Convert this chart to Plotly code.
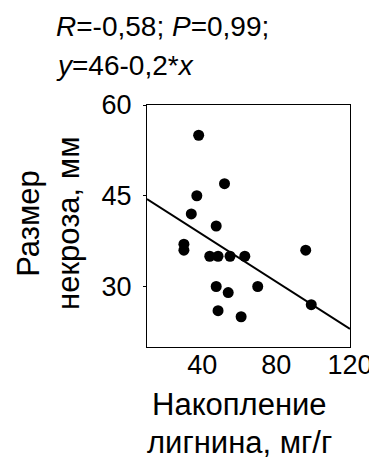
import plotly.graph_objects as go

lignin = [38, 52, 37, 34, 47.5, 30, 30, 44, 48.5, 55, 63, 96, 47.5, 70, 54, 48.5, 61, 99]
necrosis = [55, 47, 45, 42, 40, 37, 36, 35, 35, 35, 35, 36, 30, 30, 29, 26, 25, 27]
fit_intercept = 46.4
fit_slope = -0.195
x_range = [10, 120]
y_range = [20, 60]
x_ticks = [40, 80, 120]
y_ticks = [30, 45, 60]

FONT = "Liberation Sans, Arial, sans-serif"
L, R, T, B = 139, 25, 97, 120
W, H = 377, 459
PW, PH = W - L - R, H - T - B


def px_x(x):
    return (x - L) / PW


def px_y(y):
    return (H - B - y) / PH


fig = go.Figure()
fig.add_trace(go.Scatter(
    x=x_range, y=[fit_intercept + fit_slope * v for v in x_range],
    mode="lines", line=dict(color="black", width=2), showlegend=False, hoverinfo="skip"))
fig.add_trace(go.Scatter(
    x=lignin, y=necrosis, mode="markers",
    marker=dict(color="black", size=11, line=dict(width=0)), showlegend=False))

ann = []
for txt, yc in [("<i>R</i>=-0,58; <i>P</i>=0,99;", 19), ("<i>y</i>=46-0,2*<i>x</i>", 58)]:
    ann.append(dict(text=txt, xref="paper", yref="paper", x=px_x(41), y=px_y(yc),
                    xanchor="left", yanchor="middle", showarrow=False, font=dict(size=28)))
for txt, yc in [("Накопление", 396), ("лигнина, мг/г", 434)]:
    ann.append(dict(text=txt, xref="paper", yref="paper", x=px_x(236), y=px_y(yc),
                    xanchor="center", yanchor="middle", showarrow=False, font=dict(size=31)))
for txt, xc in [("Размер", 14), ("некроза, мм", 56)]:
    ann.append(dict(text=txt, textangle=-90, xref="paper", yref="paper", x=px_x(xc), y=px_y(215),
                    xanchor="center", yanchor="middle", showarrow=False, font=dict(size=31)))

fig.update_layout(
    width=W, height=H, autosize=False,
    margin=dict(l=L, r=R, t=T, b=B),
    paper_bgcolor="white", plot_bgcolor="white",
    font=dict(family=FONT, color="black", size=27),
    xaxis=dict(range=x_range, tickvals=x_ticks, showgrid=False, zeroline=False,
               showline=True, linecolor="black", linewidth=1, mirror=True,
               ticks="", tickfont=dict(size=27), ticklabelstandoff=-6),
    yaxis=dict(range=y_range, tickvals=y_ticks, showgrid=False, zeroline=False,
               showline=True, linecolor="black", linewidth=1, mirror=True,
               ticks="outside", ticklen=3, tickcolor="black", tickfont=dict(size=27),
               ticklabelstandoff=6),
    annotations=ann,
)

fig.write_html("out.html")
